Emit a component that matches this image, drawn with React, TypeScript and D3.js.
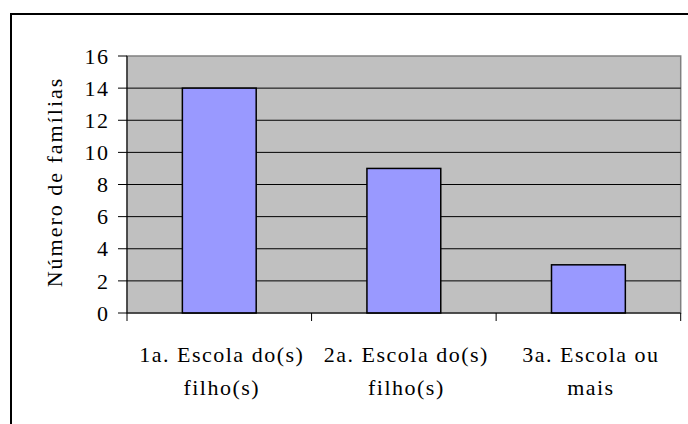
import React from "react";
import * as d3 from "d3";

const categories = ["1a. Escola do(s)|filho(s)", "2a. Escola do(s)|filho(s)", "3a. Escola ou|mais"];
const values = [14, 9, 3];
const yTicks = [0, 2, 4, 6, 8, 10, 12, 14, 16];
const yTitle = "Número de famílias";

export default function App() {
  const W = 688, H = 424;
  const left = 127, right = 680.7, top = 56, bottom = 313;
  const x = d3.scaleBand<string>().domain(categories).range([left, right]).paddingInner(0.6).paddingOuter(0.3);
  const y = d3.scaleLinear().domain([0, 16]).range([bottom, top]);
  const step = x.step();
  const ts: React.CSSProperties = { fontFamily: "'Liberation Serif', 'Times New Roman', serif", fontSize: 22, letterSpacing: 1.5 };
  return (
    <svg width={W} height={H} style={{ position: "absolute", left: 0, top: 0, background: "#fff" }}>
      <rect x={11} y={14} width={W + 10} height={H + 10} fill="#fff" stroke="#000" strokeWidth={2} />
      <rect x={left} y={top} width={right - left} height={bottom - top} fill="#c0c0c0" stroke="#808080" strokeWidth={1.5} />
      {yTicks.filter(t => t > 0 && t < 16).map(t => (
        <line key={"g" + t} x1={left} x2={right} y1={y(t)} y2={y(t)} stroke="#000" strokeWidth={1} />
      ))}
      {values.map((v, i) => (
        <rect key={"b" + i} x={x(categories[i])} y={y(v)} width={x.bandwidth()} height={y(0) - y(v)}
          fill="#9999ff" stroke="#000" strokeWidth={1.5} />
      ))}
      <line x1={left} x2={left} y1={top} y2={bottom} stroke="#000" strokeWidth={1} />
      <line x1={left} x2={right} y1={bottom} y2={bottom} stroke="#000" strokeWidth={1} />
      {yTicks.map(t => (
        <g key={"t" + t}>
          <line x1={left - 9} x2={left} y1={y(t)} y2={y(t)} stroke="#000" strokeWidth={1} />
          <text x={109.5} y={y(t)} dy="0.35em" textAnchor="end" style={ts} fill="#000">{t}</text>
        </g>
      ))}
      {categories.map((c, i) => {
        const x0 = left + i * step;
        return (
          <line key={"ct" + i} x1={x0} x2={x0} y1={bottom} y2={bottom + 8} stroke="#000" strokeWidth={1} />
        );
      })}
      <line x1={right} x2={right} y1={bottom} y2={bottom + 8} stroke="#000" strokeWidth={1} />
      {categories.map((c, i) => {
        const cx = (x(c) as number) + x.bandwidth() / 2 + 2.5;
        const lines = c.split("|");
        return (
          <text key={"cl" + i} textAnchor="middle" style={ts} fill="#000">
            {lines.map((l, j) => (
              <tspan key={j} x={cx} y={362 + j * 33}>{l}</tspan>
            ))}
          </text>
        );
      })}
      <text transform={`translate(62,182) rotate(-90)`} textAnchor="middle" style={{ ...ts, letterSpacing: 2 }} fill="#000">{yTitle}</text>
    </svg>
  );
}
